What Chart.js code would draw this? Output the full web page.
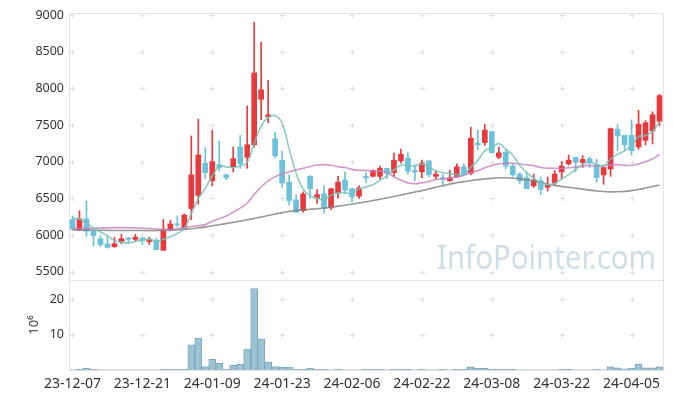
<!DOCTYPE html>
<html><head><meta charset="utf-8">
<script src="https://cdn.jsdelivr.net/npm/chart.js@4.4.1/dist/chart.umd.min.js"></script>
<style>html,body{margin:0;padding:0;background:#fff}#wrap{width:673px;height:398px;position:relative}</style>
</head><body><div id="wrap"><canvas id="c" width="673" height="398"></canvas></div>
<script>
const dates = ["23-12-07","23-12-08","23-12-11","23-12-12","23-12-13","23-12-14","23-12-15","23-12-18","23-12-19","23-12-20",
"23-12-21","23-12-22","23-12-26","23-12-27","23-12-28","24-01-02","24-01-03","24-01-04","24-01-05","24-01-08",
"24-01-09","24-01-10","24-01-11","24-01-12","24-01-15","24-01-16","24-01-17","24-01-18","24-01-19","24-01-22",
"24-01-23","24-01-24","24-01-25","24-01-26","24-01-29","24-01-30","24-01-31","24-02-01","24-02-02","24-02-05",
"24-02-06","24-02-07","24-02-08","24-02-13","24-02-14","24-02-15","24-02-16","24-02-19","24-02-20","24-02-21",
"24-02-22","24-02-23","24-02-26","24-02-27","24-02-28","24-02-29","24-03-04","24-03-05","24-03-06","24-03-07",
"24-03-08","24-03-11","24-03-12","24-03-13","24-03-14","24-03-15","24-03-18","24-03-19","24-03-20","24-03-21",
"24-03-22","24-03-25","24-03-26","24-03-27","24-03-28","24-03-29","24-04-01","24-04-02","24-04-03","24-04-04",
"24-04-05","24-04-08","24-04-09","24-04-11","24-04-12"];

const openP = [6210,6070,6220,6050,5950,5880,5840,5910,5960,5940,
5960,5910,5930,5790,6080,6150,6090,6360,6540,6980,
6740,6960,6820,6930,7200,7060,7230,7850,7610,7310,
7020,6720,6480,6330,6800,6500,6560,6370,6570,6750,
6630,6530,6800,6800,6800,6910,6850,7010,7050,6880,
6860,7010,6800,6780,6740,6790,6930,6840,7250,7260,
7410,7060,7130,6940,6830,6780,6670,6740,6650,6710,
6860,6970,7060,6990,7040,6960,6820,6900,7440,7360,
7360,7200,7290,7420,7550];
const highP = [6260,6330,6460,6060,5990,5990,5970,6010,5960,6010,
5970,5970,5960,6210,6200,6260,6290,7350,7580,7190,
7430,7280,6830,7200,7360,7760,8900,8630,8110,7400,
7140,6820,6550,6590,6810,6620,6670,6640,6800,6860,
6640,6670,6850,6890,6940,6910,7120,7170,7120,6960,
7020,7010,6880,6830,6880,6970,6970,7470,7430,7510,
7410,7200,7160,6970,6850,6860,6830,6790,6790,6880,
7000,7090,7060,7080,7060,7030,6930,7460,7510,7360,
7570,7700,7560,7680,7920];
const lowP = [6070,6060,5980,5850,5840,5820,5830,5880,5880,5910,
5870,5870,5800,5790,6060,6110,6080,6210,6420,6770,
6670,6870,6750,6860,6910,6910,7200,7570,7530,7050,
6650,6410,6300,6310,6500,6430,6300,6350,6500,6570,
6450,6500,6710,6790,6760,6770,6800,6980,6830,6740,
6780,6790,6760,6670,6730,6790,6810,6820,7160,7220,
7120,7040,6900,6800,6700,6630,6650,6550,6600,6670,
6760,6950,6860,6920,6920,6720,6690,6800,7150,7160,
7090,7170,7230,7240,7490];
const closeP = [6080,6220,6050,5990,5870,5830,5880,5950,5940,5970,
5920,5940,5800,6080,6150,6140,6270,6820,7090,6850,
7000,6920,6780,7040,6970,7230,8210,7980,7640,7080,
6710,6470,6310,6560,6630,6550,6360,6630,6720,6610,
6520,6640,6780,6880,6910,6840,7020,7100,6870,6860,
6980,6820,6830,6760,6780,6930,6830,7320,7230,7430,
7120,7120,6940,6820,6740,6630,6750,6620,6680,6830,
6940,7020,6990,7030,6990,6780,6920,7450,7350,7230,
7150,7510,7530,7640,7900];

const ma5 = [6230,6215,6160,6090,6041,5991,5923,5902,5891,5912,
5930,5943,5914,5942,5977,6021,6087,6291,6494,6634,
6807,6936,6929,6918,6942,6986,7244,7483,7603,7626,
7524,7175,6843,6627,6536,6502,6480,6543,6576,6574,
6569,6625,6656,6686,6746,6810,6887,6950,6949,6939,
6967,6926,6873,6851,6834,6824,6826,6925,7018,7148,
7187,7246,7169,7088,6950,6851,6776,6713,6685,6703,
6766,6820,6893,6963,6994,6962,6942,7036,7100,7148,
7222,7340,7356,7412,7545];
const ma20 = [6085,6088,6090,6092,6095,6098,6100,6100,6098,6095,
6092,6088,6082,6072,6072,6085,6100,6115,6128,6141,
6187,6222,6259,6311,6366,6436,6553,6654,6739,6795,
6835,6861,6887,6910,6934,6955,6959,6950,6931,6919,
6895,6881,6881,6873,6871,6851,6792,6748,6710,6699,
6712,6730,6756,6766,6773,6793,6816,6851,6876,6917,
6947,6971,6979,6977,6968,6957,6944,6920,6910,6909,
6907,6917,6925,6939,6949,6941,6946,6953,6959,6949,
6950,6970,6999,7040,7098];
const ma60 = [6068,6067,6066,6065,6064,6063,6062,6062,6061,6061,
6060,6060,6060,6061,6063,6068,6075,6085,6097,6110,
6125,6140,6155,6172,6190,6207,6225,6245,6265,6285,
6305,6320,6333,6342,6350,6358,6368,6380,6393,6406,
6420,6435,6452,6470,6488,6506,6525,6545,6565,6585,
6605,6627,6650,6672,6695,6712,6728,6742,6755,6765,
6773,6780,6780,6775,6765,6752,6735,6715,6695,6678,
6662,6650,6638,6625,6612,6600,6592,6588,6590,6595,
6605,6620,6640,6660,6682];
const volume = [0.03,0.2,0.5,0.2,0.03,0.03,0.03,0.03,0.03,0.03,
0.03,0.03,0.03,0.2,0.2,0.2,0.2,7.1,9.0,1.0,
3.0,1.9,0.2,1.3,1.6,5.9,23.0,8.8,2.2,1.0,
0.8,0.8,0.2,0.2,0.5,0.2,0.2,0.03,0.2,0.03,
0.03,0.03,0.2,0.2,0.2,0.03,0.2,0.2,0.2,0.03,
0.2,0.03,0.03,0.2,0.03,0.2,0.2,0.9,0.5,0.5,
0.2,0.2,0.2,0.2,0.03,0.03,0.03,0.03,0.03,0.03,
0.2,0.2,0.03,0.03,0.03,0.2,0.03,0.9,0.6,0.3,
0.5,1.7,0.6,0.6,0.9];
const priceTicks = [5500,6000,6500,7000,7500,8000,8500,9000];
const volumeTicks = [10,20];
const volumeTitle = "10\u2076";
const watermark = "InfoPointer.com";

const RED = '#e8393d', BLUE = '#6cc2da';
const candleColors = openP.map((o,i) => closeP[i] >= o ? RED : BLUE);

const panelPlugin = {
  id: 'panels',
  beforeDatasetsDraw(chart) {
    const ctx = chart.ctx, ca = chart.chartArea;
    const x = chart.scales.x, y = chart.scales.y, yv = chart.scales.yv;
    ctx.save();
    // watermark
    ctx.fillStyle = 'rgba(175,202,216,0.62)';
    ctx.font = '33px "Noto Sans"';
    ctx.textBaseline = 'alphabetic';
    ctx.textAlign = 'left';
    ctx.fillText(watermark, ca.right - 226, y.getPixelForValue(5535), 219);
    // borders
    ctx.strokeStyle = '#e3e3e3';
    ctx.lineWidth = 1;
    ctx.strokeRect(Math.round(ca.left)+0.5, Math.round(y.top)+0.5, Math.round(ca.right-ca.left), Math.round(y.bottom-y.top));
    ctx.strokeRect(Math.round(ca.left)+0.5, Math.round(yv.top)+0.5, Math.round(ca.right-ca.left), Math.round(yv.bottom-yv.top));
    // crosses
    ctx.strokeStyle = '#dedede';
    const xs = [];
    dates.forEach((d,i) => { if (i % 10 === 0) xs.push(Math.round(x.getPixelForValue(i)) + 0.5); });
    const ys = priceTicks.map(v => Math.round(y.getPixelForValue(v)) + 0.5)
      .concat(volumeTicks.map(v => Math.round(yv.getPixelForValue(v)) + 0.5));
    ctx.beginPath();
    xs.forEach(px => ys.forEach(py => {
      ctx.moveTo(px - 2.5, py); ctx.lineTo(px + 2.5, py);
      ctx.moveTo(px, py - 2.5); ctx.lineTo(px, py + 2.5);
    }));
    ctx.stroke();
    // volume unit title
    ctx.fillStyle = '#333';
    ctx.font = '13px "Noto Sans"';
    ctx.textAlign = 'center';
    ctx.textBaseline = 'middle';
    ctx.translate(34, (yv.top + yv.bottom) / 2);
    ctx.rotate(-Math.PI / 2);
    ctx.fillText(volumeTitle, 0, 0);
    ctx.restore();
  }
};

const plainTick = v => String(v);

new Chart(document.getElementById('c'), {
  type: 'bar',
  data: {
    labels: dates,
    datasets: [
      { type: 'line', label: 'MA5', data: ma5, yAxisID: 'y', borderColor: 'rgba(120,195,185,0.85)', borderWidth: 1.6, pointRadius: 0, tension: 0.4, order: 0 },
      { type: 'line', label: 'MA20', data: ma20, yAxisID: 'y', borderColor: 'rgba(195,125,190,0.8)', borderWidth: 1.6, pointRadius: 0, tension: 0.4, order: 0 },
      { type: 'line', label: 'MA60', data: ma60, yAxisID: 'y', borderColor: 'rgba(125,125,125,0.8)', borderWidth: 1.6, pointRadius: 0, tension: 0.4, order: 0 },
      { label: 'body', data: openP.map((o,i) => [o, closeP[i]]), yAxisID: 'y', backgroundColor: candleColors, barThickness: 5, minBarLength: 1, grouped: false, order: 1 },
      { label: 'wick', data: lowP.map((l,i) => [l, highP[i]]), yAxisID: 'y', backgroundColor: candleColors, barThickness: 1, grouped: false, order: 2 },
      { label: 'volume', data: volume, yAxisID: 'yv', backgroundColor: '#9cc3d4', borderColor: '#7ea8bc', borderWidth: {top:1,left:1,right:1,bottom:0}, barPercentage: 1, categoryPercentage: 1, grouped: false, order: 3 }
    ]
  },
  options: {
    responsive: false,
    animation: false,
    events: [],
    layout: { padding: { top: 13, right: 10, left: 0, bottom: 0 } },
    plugins: { legend: { display: false }, tooltip: { enabled: false } },
    scales: {
      x: {
        type: 'category', offset: true,
        grid: { display: false, drawTicks: false },
        border: { display: false },
        ticks: { autoSkip: false, maxRotation: 0, padding: 6, color: '#333', font: { size: 14, family: '"Noto Sans"' },
          callback(v, i) { return i % 10 === 0 ? dates[i] : ''; } },
        afterFit(s) { s.height = 28; }
      },
      y: {
        position: 'left', stack: 'p', stackWeight: 267, weight: 2,
        min: 5386, max: 9027,
        grid: { display: false, drawTicks: false },
        border: { display: false },
        ticks: { padding: 5, color: '#333', font: { size: 12.5, family: '"Noto Sans"' }, callback: plainTick },
        afterBuildTicks(s) { s.ticks = priceTicks.map(v => ({ value: v })); },
        afterFit(s) { s.width = 69; }
      },
      yv: {
        position: 'left', stack: 'p', stackWeight: 90, weight: 1,
        min: 0, max: 25.4,
        grid: { display: false, drawTicks: false },
        border: { display: false },
        ticks: { padding: 5, color: '#333', font: { size: 12.5, family: '"Noto Sans"' }, callback: plainTick },
        afterBuildTicks(s) { s.ticks = volumeTicks.map(v => ({ value: v })); },
        afterFit(s) { s.width = 69; }
      }
    }
  },
  plugins: [panelPlugin]
});
</script></body></html>
